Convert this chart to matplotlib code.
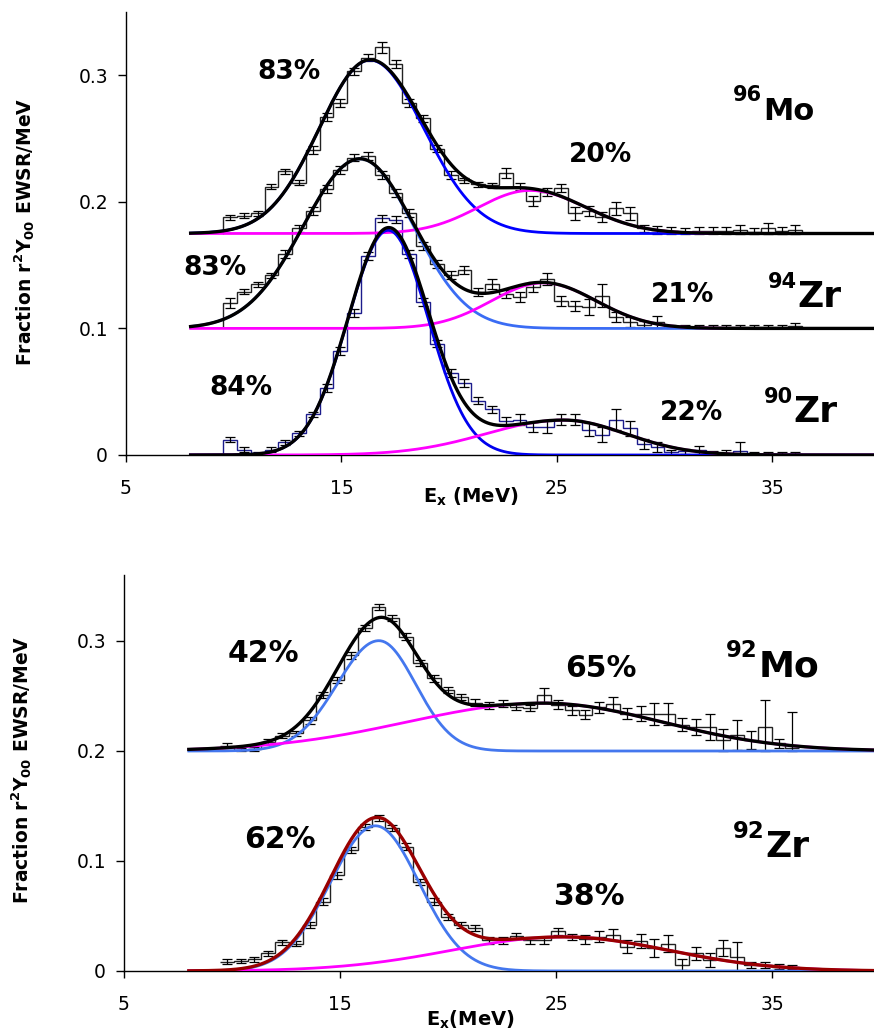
import numpy as np
import matplotlib
matplotlib.use("Agg")
import matplotlib.pyplot as plt

# energy bins (MeV): first bin centre and bin width
top_e0, top_de = 9.83, 0.64
bot_e0, bot_de = 9.76, 0.6385

# strength per bin (fraction EWSR/MeV, without the vertical offset)
mo96 = [0.013, 0.014, 0.016, 0.037, 0.049, 0.040, 0.066, 0.092, 0.103, 0.128,
        0.139, 0.147, 0.134, 0.103, 0.091, 0.067, 0.046, 0.042, 0.039, 0.038,
        0.048, 0.037, 0.026, 0.033, 0.036, 0.016, 0.018, 0.013, 0.020, 0.016,
        0.004, 0.003, 0.002, 0.001, 0.002, 0.002, 0.002, 0.003, 0.001, 0.004,
        0.002, 0.003]
mo96_err = [0.002, 0.002, 0.002, 0.002, 0.002, 0.002, 0.003, 0.003, 0.003, 0.003,
            0.003, 0.004, 0.003, 0.003, 0.003, 0.003, 0.003, 0.002, 0.002, 0.002,
            0.004, 0.003, 0.004, 0.003, 0.003, 0.005, 0.004, 0.004, 0.005, 0.005,
            0.003, 0.003, 0.003, 0.003, 0.003, 0.003, 0.003, 0.004, 0.003, 0.004,
            0.003, 0.004]
zr94 = [0.020, 0.029, 0.035, 0.042, 0.059, 0.079, 0.093, 0.110, 0.125, 0.135,
        0.136, 0.121, 0.107, 0.091, 0.065, 0.051, 0.042, 0.046, 0.029, 0.035,
        0.027, 0.025, 0.033, 0.039, 0.022, 0.018, 0.017, 0.026, 0.009, 0.005,
        0.003, 0.005, 0.001, 0.001, 0.001, 0.001, 0.001, 0.001, 0.001, 0.001,
        0.001, 0.002]
zr94_err = [0.004, 0.002, 0.002, 0.002, 0.003, 0.003, 0.003, 0.003, 0.003, 0.003,
            0.003, 0.003, 0.003, 0.003, 0.003, 0.003, 0.003, 0.003, 0.003, 0.004,
            0.003, 0.004, 0.004, 0.005, 0.004, 0.004, 0.006, 0.009, 0.004, 0.004,
            0.003, 0.005, 0.002, 0.002, 0.002, 0.002, 0.002, 0.002, 0.002, 0.002,
            0.002, 0.002]
zr90 = [0.012, 0.004, 0.0015, 0.004, 0.010, 0.017, 0.032, 0.053, 0.082, 0.112,
        0.157, 0.187, 0.186, 0.159, 0.121, 0.088, 0.065, 0.057, 0.043, 0.036,
        0.027, 0.028, 0.022, 0.022, 0.028, 0.028, 0.020, 0.016, 0.028, 0.021,
        0.009, 0.006, 0.002, 0.003, 0.004, 0.001, 0.001, 0.003, 0.0, 0.0005,
        0.0, 0.0005]
zr90_err = [0.002, 0.002, 0.001, 0.002, 0.002, 0.002, 0.002, 0.003, 0.003, 0.003,
            0.003, 0.003, 0.003, 0.003, 0.003, 0.003, 0.003, 0.003, 0.003, 0.003,
            0.003, 0.004, 0.004, 0.005, 0.004, 0.004, 0.005, 0.006, 0.008, 0.006,
            0.004, 0.004, 0.002, 0.002, 0.003, 0.002, 0.003, 0.007, 0.002, 0.002,
            0.002, 0.002]
mo92 = [0.005, 0.001, 0.002, 0.0085, 0.014, 0.016, 0.028, 0.051, 0.0645, 0.087,
        0.112, 0.131, 0.121, 0.104, 0.080, 0.066, 0.0555, 0.049, 0.044, 0.0415,
        0.043, 0.040, 0.039, 0.051, 0.042, 0.037, 0.033, 0.040, 0.043, 0.034,
        0.034, 0.034, 0.034, 0.024, 0.022, 0.022, 0.010, 0.0145, 0.010, 0.022,
        0.007, 0.0025]
mo92_err = [0.002, 0.002, 0.002, 0.002, 0.002, 0.002, 0.003, 0.003, 0.003, 0.003,
            0.003, 0.003, 0.003, 0.003, 0.003, 0.003, 0.003, 0.003, 0.003, 0.003,
            0.003, 0.003, 0.003, 0.006, 0.004, 0.004, 0.004, 0.005, 0.006, 0.005,
            0.007, 0.010, 0.010, 0.006, 0.007, 0.012, 0.010, 0.014, 0.008, 0.024,
            0.004, 0.033]
zr92 = [0.0085, 0.009, 0.0106, 0.016, 0.026, 0.025, 0.042, 0.063, 0.087, 0.110,
        0.131, 0.139, 0.130, 0.113, 0.081, 0.063, 0.049, 0.042, 0.039, 0.028,
        0.028, 0.032, 0.028, 0.028, 0.036, 0.031, 0.029, 0.031, 0.033, 0.022,
        0.027, 0.021, 0.025, 0.0055, 0.016, 0.010, 0.021, 0.013, 0.0055, 0.0055,
        0.004, 0.0035]
zr92_err = [0.002, 0.002, 0.002, 0.002, 0.002, 0.002, 0.003, 0.003, 0.003, 0.003,
            0.003, 0.003, 0.003, 0.003, 0.003, 0.003, 0.003, 0.003, 0.003, 0.003,
            0.003, 0.003, 0.003, 0.003, 0.003, 0.003, 0.004, 0.005, 0.005, 0.006,
            0.0065, 0.008, 0.008, 0.005, 0.006, 0.006, 0.0076, 0.013, 0.003, 0.003,
            0.002, 0.002]

# fitted components: (centroid, height, left width, right width)
mo96_gdr, mo96_high = (16.32, 0.137, 2.35, 2.5), (23.75, 0.034, 2.4, 2.6)
zr94_gdr, zr94_high = (15.86, 0.134, 2.62, 2.48), (24.37, 0.036, 2.4, 2.45)
zr90_gdr, zr90_high = (17.17, 0.1775, 1.86, 1.86), (25.3, 0.0276, 3.6, 2.9)
mo92_gdr, mo92_high = (16.8, 0.1003, 1.93, 1.7), (24.4, 0.0435, 6.3, 5.5)
zr92_gdr, zr92_high = (16.64, 0.132, 2.1, 2.03), (25.36, 0.031, 5.2, 4.85)

offsets_top = [0.175, 0.1, 0.0]
offsets_bot = [0.2, 0.0]

plt.rcParams["mathtext.fontset"] = "dejavusans"

MAGENTA = "#ff00ff"


def component(x, c, a, sl, sr):
    s = np.where(x < c, sl, sr)
    return a * np.exp(-0.5 * ((x - c) / s) ** 2)


def draw_nucleus(ax, e0, de, vals, errs, off, hcol, gdr, high, bcol, tcol, drop=True):
    vals = np.array(vals)
    errs = np.array(errs)
    centres = e0 + de * np.arange(len(vals))
    edges = np.append(centres - de / 2, centres[-1] + de / 2)
    ax.stairs(vals + off, edges, baseline=off if drop else None,
              color=hcol, lw=1.0, zorder=2)
    lo = np.minimum(errs, vals)
    ax.errorbar(centres, vals + off, yerr=[lo, errs], fmt="none", ecolor="black",
                elinewidth=0.9, capsize=3.5, capthick=0.9, zorder=3)
    x = np.linspace(8, 40, 600)
    g = component(x, *gdr)
    h = component(x, *high)
    ax.plot(x, g + off, color=bcol, lw=2.0, zorder=4)
    ax.plot(x, h + off, color=MAGENTA, lw=2.0, zorder=4)
    ax.plot(x, g + h + off, color=tcol, lw=2.4, zorder=5)


def nuc_label(ax, x, y, ysup, mass, elem, fs_m, fs_e):
    ax.text(x, y, elem, fontsize=fs_e, fontweight="bold", ha="left", va="baseline")
    ax.text(x - 0.05, ysup, mass, fontsize=fs_m, fontweight="bold", ha="right",
            va="baseline")


def style_axes(ax, ymax):
    ax.set_xlim(5, 39.72)
    ax.set_ylim(0, ymax)
    ax.set_xticks([5, 15, 25, 35])
    ax.set_yticks([0, 0.1, 0.2, 0.3])
    ax.set_yticklabels(["0", "0.1", "0.2", "0.3"])
    for s in ["top", "right"]:
        ax.spines[s].set_visible(False)
    for s in ["left", "bottom"]:
        ax.spines[s].set_linewidth(1.0)
    ax.tick_params(axis="y", direction="out", length=6, width=1, pad=7, labelsize=13.5)
    ax.tick_params(axis="x", direction="out", length=5, width=1, pad=12, labelsize=13.5)


fig = plt.figure(figsize=(8.74, 10.3), dpi=100)
ax1 = fig.add_axes([126 / 874, 575 / 1030, 748 / 874, 443 / 1030])
ax2 = fig.add_axes([124 / 874, 59 / 1030, 750 / 874, 396 / 1030])

draw_nucleus(ax1, top_e0, top_de, mo96, mo96_err, offsets_top[0], "#222222",
             mo96_gdr, mo96_high, "#0000ff", "black")
draw_nucleus(ax1, top_e0, top_de, zr94, zr94_err, offsets_top[1], "#222222",
             zr94_gdr, zr94_high, "#3a6cf4", "black")
draw_nucleus(ax1, top_e0, top_de, zr90, zr90_err, offsets_top[2], "#1c1c8c",
             zr90_gdr, zr90_high, "#0000ee", "black")

draw_nucleus(ax2, bot_e0, bot_de, mo92, mo92_err, offsets_bot[0], "#222222",
             mo92_gdr, mo92_high, "#4477ee", "black", drop=False)
draw_nucleus(ax2, bot_e0, bot_de, zr92, zr92_err, offsets_bot[1], "#222222",
             zr92_gdr, zr92_high, "#4477ee", "#990000", drop=False)

style_axes(ax1, 0.35)
style_axes(ax2, 0.36)

pct = dict(fontsize=19, fontweight="bold", ha="center", va="baseline")
ax1.text(12.56, 0.2968, "83%", **pct)
ax1.text(27.04, 0.2313, "20%", **pct)
ax1.text(9.13, 0.1421, "83%", **pct)
ax1.text(30.85, 0.1208, "21%", **pct)
ax1.text(10.34, 0.0474, "84%", **pct)
ax1.text(31.26, 0.0276, "22%", **pct)
nuc_label(ax1, 34.56, 0.265, 0.280, "96", "Mo", 15, 22)
nuc_label(ax1, 36.18, 0.117, 0.132, "94", "Zr", 15, 26)
nuc_label(ax1, 36.0, 0.026, 0.041, "90", "Zr", 15, 26)

pct2 = dict(pct, fontsize=21.5)
ax2.text(11.44, 0.2809, "42%", **pct2)
ax2.text(27.06, 0.2673, "65%", **pct2)
ax2.text(12.23, 0.1118, "62%", **pct2)
ax2.text(26.5, 0.060, "38%", **pct2)
nuc_label(ax2, 34.38, 0.2673, 0.2855, "92", "Mo", 16.5, 26)
nuc_label(ax2, 34.7, 0.1036, 0.1209, "92", "Zr", 16.5, 26)

ylab = r"Fraction r$^\mathbf{2}$Y$_\mathbf{00}$ EWSR/MeV"
fig.text(25 / 874, 1 - 232 / 1030, ylab, rotation=90, fontsize=13.5,
         fontweight="bold", ha="center", va="center")
fig.text(22 / 874, 1 - 770 / 1030, ylab, rotation=90, fontsize=13.5,
         fontweight="bold", ha="center", va="center")
fig.text(471 / 874, 1 - 497 / 1030, r"E$_\mathbf{x}$ (MeV)", fontsize=14,
         fontweight="bold", ha="center", va="center")
fig.text(470 / 874, 1 - 1020 / 1030, r"E$_\mathbf{x}$(MeV)", fontsize=14,
         fontweight="bold", ha="center", va="center")

fig.savefig("out.png", dpi=100)
